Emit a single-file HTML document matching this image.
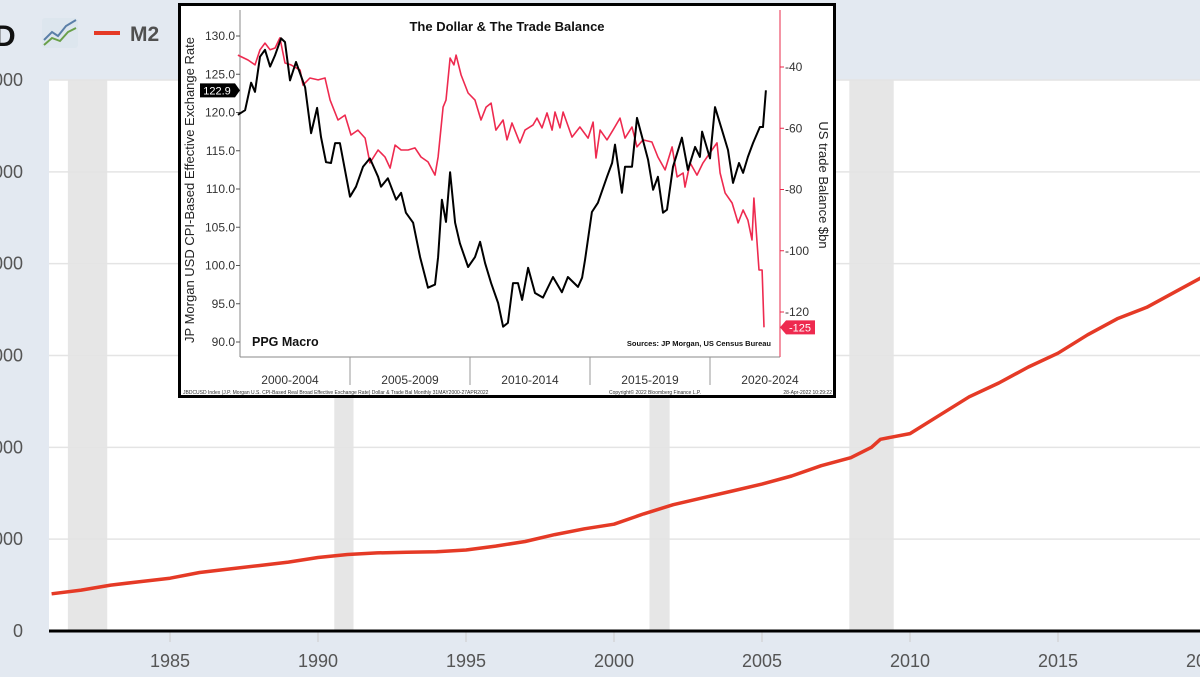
<!DOCTYPE html>
<html><head><meta charset="utf-8"><style>
html,body{margin:0;padding:0;background:#e3e9f1;}
svg{display:block;font-family:"Liberation Sans",sans-serif;}
</style></head><body>
<svg id="root" width="1200" height="677" viewBox="0 0 1200 677">
<rect x="0" y="0" width="1200" height="677" fill="#e3e9f1"/>
<g id="fred"></g>
<g>
  <text x="-6" y="46" font-size="30" font-weight="bold" fill="#111">D</text>
  <rect x="42" y="18" width="36" height="30" rx="3" fill="#dde6ee"/>
  <polyline points="44,40 52,32 58,36 66,26 76,20" fill="none" stroke="#5b7fa8" stroke-width="2"/>
  <polyline points="44,45 52,38 60,41 68,32 76,28" fill="none" stroke="#6aa04a" stroke-width="2"/>
  <line x1="94" y1="33" x2="120" y2="33" stroke="#e53a26" stroke-width="4"/>
  <text x="130" y="41" font-size="21" font-weight="bold" fill="#505050">M2</text>
</g>
<g id="inset"></g>
</svg>
<script>
// ---------- FRED M2 data ----------
const m2Years = [1981,1982,1983,1984,1985,1986,1987,1988,1989,1990,1991,1992,1993,1994,1995,1996,1997,1998,1999,2000,2001,2002,2003,2004,2005,2006,2007,2008,2008.7,2009,2010,2011,2012,2013,2014,2015,2016,2017,2018,2019,2020];
const m2Values = [1620,1780,2000,2150,2300,2550,2700,2850,3000,3200,3330,3400,3430,3450,3530,3700,3900,4200,4450,4650,5100,5500,5800,6100,6400,6750,7200,7550,8000,8350,8600,9400,10200,10800,11500,12100,12900,13600,14100,14800,15500];
const m2Ticks = [0,4000,8000,12000,16000,20000,24000];
const m2TickLabels = ["0","4,000","8,000","12,000","16,000","20,000","24,000"];
const yearTicks = [1985,1990,1995,2000,2005,2010,2015,2020];
const recessions = [[1981.55,1982.88],[1990.55,1991.2],[2001.2,2001.88],[2007.95,2009.45]];

// ---------- Inset data ----------
const usdYears = [2000.33,2000.63,2000.88,2001.04,2001.25,2001.46,2001.67,2001.88,2002.13,2002.29,2002.5,2002.75,2003.13,2003.38,2003.63,2003.79,2004.0,2004.21,2004.38,2004.58,2005.0,2005.25,2005.54,2005.83,2006.17,2006.29,2006.58,2006.92,2007.13,2007.33,2007.63,2007.92,2008.25,2008.54,2008.67,2008.83,2009.0,2009.17,2009.38,2009.58,2009.92,2010.21,2010.42,2010.63,2010.88,2011.17,2011.38,2011.58,2011.79,2012.0,2012.17,2012.42,2012.71,2013.04,2013.46,2013.83,2014.08,2014.5,2014.67,2014.79,2015.08,2015.33,2015.71,2015.92,2016.04,2016.33,2016.46,2016.75,2016.96,2017.17,2017.42,2017.63,2017.83,2018.04,2018.21,2018.46,2018.83,2019.08,2019.38,2019.58,2019.67,2020.0,2020.21,2020.5,2020.75,2020.96,2021.21,2021.38,2021.58,2021.79,2022.08,2022.21,2022.33];
const usdValues = [119.7,120.3,123.9,122.7,127.3,128.2,126,127.5,129.7,129.2,124.2,126.6,123.3,117.3,120.6,116.8,113.5,113.4,116,116,109,110.3,112.9,114,111.6,110.3,111.4,108.6,109.5,106.9,105.6,101.1,97.1,97.5,101.1,108.6,105.7,112.2,105.6,102.9,99.8,101.1,103.1,100.3,97.7,95.1,92,92.5,97.7,97.7,95.5,99.7,96.4,95.8,98.5,96.5,98.5,97.2,98.4,100.7,107,108.2,111.6,113.4,115.8,109.5,112.9,112.9,119.3,116.8,113.8,109.9,111.6,106.9,107.3,112.9,116.7,112.5,115.5,114.2,117.5,114,120.7,117.7,115.1,110.8,113.4,112.1,114.2,116,118.1,118.1,122.9];
const tbYears = [2000.33,2000.75,2001.04,2001.25,2001.46,2001.67,2001.88,2002.08,2002.29,2002.54,2002.92,2003.04,2003.33,2003.67,2003.96,2004.17,2004.5,2004.79,2005.04,2005.33,2005.63,2005.83,2006.17,2006.46,2006.67,2006.88,2007.13,2007.42,2007.71,2007.96,2008.25,2008.54,2008.67,2008.88,2009.0,2009.17,2009.33,2009.42,2009.63,2009.92,2010.21,2010.46,2010.67,2010.88,2011.08,2011.38,2011.54,2011.75,2012.08,2012.29,2012.63,2012.79,2013.0,2013.21,2013.42,2013.54,2013.75,2013.88,2014.25,2014.58,2014.92,2015.13,2015.25,2015.42,2015.71,2015.96,2016.25,2016.46,2016.75,2016.96,2017.21,2017.58,2017.83,2018.13,2018.42,2018.63,2018.88,2018.96,2019.17,2019.46,2019.71,2020.08,2020.29,2020.42,2020.63,2020.92,2021.17,2021.38,2021.58,2021.75,2021.83,2022.04,2022.17,2022.25];
const tbValues = [-36.1,-37.7,-39.3,-34.4,-32.2,-34.4,-33.8,-30.5,-38.7,-39.3,-41,-45.9,-43.6,-44.2,-43.6,-50.8,-57.3,-55.7,-62.2,-60.6,-63.2,-71.3,-67.1,-69.4,-73,-65.5,-67.1,-67.1,-66.4,-69.4,-71,-75.3,-69.4,-53.1,-50.8,-37.1,-39.3,-36.1,-42.6,-48.5,-50.8,-57.3,-53.1,-51.8,-60.6,-57.3,-63.8,-58.3,-64.8,-60.6,-58.9,-56.7,-59.9,-55,-60.6,-54.7,-59.9,-54.7,-62.9,-59.6,-63.2,-58,-69.7,-60.6,-63.8,-60.6,-56.7,-63.2,-59.6,-66.1,-63.8,-64.5,-69.4,-73.6,-66.1,-75.9,-74.6,-79.2,-71.3,-75.3,-71.3,-67.1,-64.8,-74.6,-81.1,-84.4,-90.9,-86.7,-90,-96.5,-82.8,-106.3,-106.3,-125];
const usdTicks = [90,95,100,105,110,115,120,125,130];
const tbTicks = [-40,-60,-80,-100,-120];
const periodLabels = ["2000-2004","2005-2009","2010-2014","2015-2019","2020-2024"];
const periodBounds = [2005,2010,2015,2020];

const NS = "http://www.w3.org/2000/svg";
function mk(parent, tag, attrs, text){
  const e = document.createElementNS(NS, tag);
  for (const k in attrs) e.setAttribute(k, attrs[k]);
  if (text !== undefined) e.textContent = text;
  parent.appendChild(e);
  return e;
}

// ---------- FRED chart ----------
const fx = y => 170 + (y - 1985) * 29.6;
const fy = v => 631 - v * (551 / 24000);
const fred = document.getElementById('fred');
let r = mk(fred, 'rect', {x:49, y:80, width:1151, height:551, fill:'#ffffff'});


recessions.forEach(([a,b]) => {
  const e = mk(fred, 'rect', {x:fx(a), y:80, width:fx(b)-fx(a), height:551, fill:'#e6e6e6'});
  
  
});
m2Ticks.forEach((t,i) => {
  if (t > 0) {
    const g = mk(fred, 'line', {x1:49, x2:1200, y1:fy(t), y2:fy(t), stroke:'#e4e4e4', 'stroke-width':1.5});
    
    
  }
  const l = mk(fred, 'text', {x:23, y:fy(t)+6, 'text-anchor':'end', 'font-size':18, fill:'#555'}, m2TickLabels[i]);
  
  
});
yearTicks.forEach(yr => {
  const t = mk(fred, 'line', {x1:fx(yr), x2:fx(yr), y1:632, y2:642, stroke:'#ccc', 'stroke-width':1});
  
  
  const l = mk(fred, 'text', {x:fx(yr), y:667, 'text-anchor':'middle', 'font-size':18, fill:'#555'}, String(yr));
  
  
});
const m2Line = mk(fred, 'polyline', {points: m2Years.map((y,i)=>fx(y).toFixed(1)+','+fy(m2Values[i]).toFixed(1)).join(' '), fill:'none', stroke:'#e53a26', 'stroke-width':3.5, 'stroke-linejoin':'round'});


const ax = mk(fred, 'line', {x1:49, x2:1200, y1:631, y2:631, stroke:'#000', 'stroke-width':3});



// ---------- Inset ----------
const ix = y => 350 + (y - 2005) * 24;
const iyL = v => 36 + (130 - v) * 7.65;
const iyR = v => 67 + (-40 - v) * 3.0625;
const ins = document.getElementById('inset');
let fr = mk(ins, 'rect', {x:179.5, y:4.5, width:655, height:392, fill:'#fff', stroke:'#000', 'stroke-width':3});


let tt = mk(ins, 'text', {x:507, y:31, 'text-anchor':'middle', 'font-size':13, 'font-weight':'bold', fill:'#111'}, 'The Dollar & The Trade Balance');


let la = mk(ins, 'line', {x1:240, x2:240, y1:10, y2:357, stroke:'#888', 'stroke-width':1});


usdTicks.forEach(t => {
  const tk = mk(ins, 'line', {x1:236, x2:240, y1:iyL(t), y2:iyL(t), stroke:'#555'});
  
  
  const l = mk(ins, 'text', {x:235, y:iyL(t)+4, 'text-anchor':'end', 'font-size':12, fill:'#333'}, t.toFixed(1));
  
  
});
let lt = mk(ins, 'text', {x:0, y:0, transform:'translate(194,190) rotate(-90)', 'text-anchor':'middle', 'font-size':13, fill:'#222'}, 'JP Morgan USD CPI-Based Effective Exchange Rate');


let ra = mk(ins, 'line', {x1:780, x2:780, y1:10, y2:357, stroke:'#e8284a', 'stroke-width':1});


tbTicks.forEach(t => {
  const tk = mk(ins, 'line', {x1:780, x2:784, y1:iyR(t), y2:iyR(t), stroke:'#e8284a'});
  
  
  const l = mk(ins, 'text', {x:785, y:iyR(t)+4, 'font-size':12, fill:'#333'}, '-' + Math.abs(t));
  
  
});
let rt = mk(ins, 'text', {x:0, y:0, transform:'translate(819,185) rotate(90)', 'text-anchor':'middle', 'font-size':13, fill:'#222'}, 'US trade Balance $bn');


let ba = mk(ins, 'line', {x1:240, x2:780, y1:357, y2:357, stroke:'#888'});


periodBounds.forEach(b => {
  const s = mk(ins, 'line', {x1:ix(b), x2:ix(b), y1:357, y2:385, stroke:'#999'});
  
  
});
periodLabels.forEach((p,i) => {
  const c = ix(2002.5 + i*5);
  const l = mk(ins, 'text', {x:c, y:384, 'text-anchor':'middle', 'font-size':12, fill:'#333'}, p);
  
  
});
const tbLine = mk(ins, 'polyline', {points: tbYears.map((y,i)=>ix(y).toFixed(1)+','+iyR(tbValues[i]).toFixed(1)).join(' '), fill:'none', stroke:'#ee2a4f', 'stroke-width':1.6, 'stroke-linejoin':'round'});


const usdLine = mk(ins, 'polyline', {points: usdYears.map((y,i)=>ix(y).toFixed(1)+','+iyL(usdValues[i]).toFixed(1)).join(' '), fill:'none', stroke:'#000', 'stroke-width':2, 'stroke-linejoin':'round'});


const lastUsd = usdValues[usdValues.length-1];
const ut = mk(ins, 'polygon', {points:`200,${iyL(lastUsd)-7} 235,${iyL(lastUsd)-7} 240,${iyL(lastUsd)} 235,${iyL(lastUsd)+7} 200,${iyL(lastUsd)+7}`, fill:'#000'});


const utx = mk(ins, 'text', {x:217, y:iyL(lastUsd)+4, 'text-anchor':'middle', 'font-size':11, fill:'#fff'}, lastUsd.toFixed(1));


const lastTb = tbValues[tbValues.length-1];
const rtg = mk(ins, 'polygon', {points:`780,${iyR(lastTb)} 786,${iyR(lastTb)-7} 815,${iyR(lastTb)-7} 815,${iyR(lastTb)+7} 786,${iyR(lastTb)+7}`, fill:'#ee2a4f'});


const rtx = mk(ins, 'text', {x:800, y:iyR(lastTb)+4, 'text-anchor':'middle', 'font-size':11, fill:'#fff'}, String(Math.round(lastTb)));


let pm = mk(ins, 'text', {x:252, y:346, 'font-size':12.5, 'font-weight':'bold', fill:'#111'}, 'PPG Macro');


let src = mk(ins, 'text', {x:771, y:346, 'text-anchor':'end', 'font-size':7.5, 'font-weight':'bold', fill:'#111'}, 'Sources: JP Morgan, US Census Bureau');


let ft1 = mk(ins, 'text', {x:183, y:394, 'font-size':5, fill:'#333'}, 'JBDCUSD Index (J.P. Morgan U.S. CPI-Based Real Broad Effective Exchange Rate) Dollar & Trade Bal  Monthly 31MAY2000-27APR2022');


let ft2 = mk(ins, 'text', {x:655, y:394, 'text-anchor':'middle', 'font-size':5, fill:'#333'}, 'Copyright© 2022 Bloomberg Finance L.P.');


let ft3 = mk(ins, 'text', {x:832, y:394, 'text-anchor':'end', 'font-size':5, fill:'#333'}, '28-Apr-2022 10:29:22');


</script>
</body></html>
